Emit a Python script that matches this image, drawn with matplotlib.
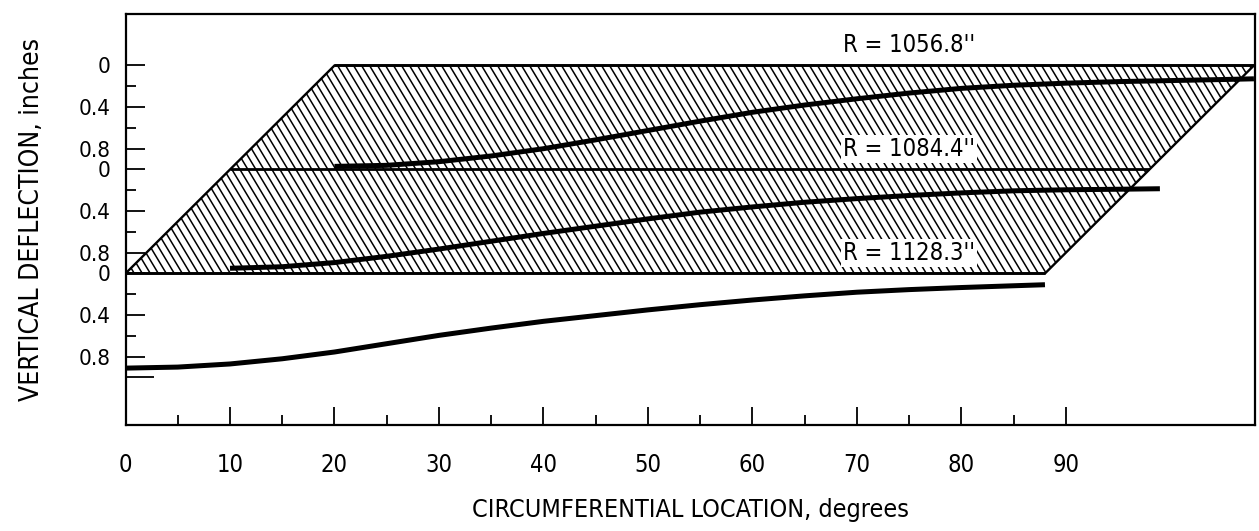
import numpy as np
import matplotlib
matplotlib.use("Agg")
import matplotlib.pyplot as plt
from matplotlib import font_manager
from matplotlib.patches import Polygon
from matplotlib.collections import LineCollection


# circumferential location (deg) along each ring, and vertical deflection (in.)
angle_top = [0, 5, 10, 15, 20, 25, 30, 35, 40, 45, 50, 55, 60, 65, 70, 75, 80, 85, 88]
defl_top = [0.97, 0.96, 0.925, 0.87, 0.80, 0.715, 0.625, 0.535, 0.45, 0.38, 0.32, 0.265,
            0.22, 0.19, 0.17, 0.155, 0.145, 0.135, 0.128]

angle_mid = [0, 5, 10, 15, 20, 25, 30, 35, 40, 45, 50, 55, 60, 65, 70, 75, 80, 85, 89]
defl_mid = [0.95, 0.935, 0.895, 0.835, 0.765, 0.69, 0.615, 0.545, 0.475, 0.41, 0.36, 0.315,
            0.28, 0.25, 0.225, 0.205, 0.195, 0.19, 0.185]

angle_bot = [0, 5, 10, 15, 20, 25, 30, 35, 40, 45, 50, 55, 60, 65, 70, 75, 80, 85, 88]
defl_bot = [0.91, 0.90, 0.87, 0.82, 0.755, 0.675, 0.595, 0.525, 0.46, 0.405, 0.35, 0.30,
            0.255, 0.215, 0.18, 0.155, 0.135, 0.118, 0.108]

ring_labels = ["R = 1056.8''", "R = 1084.4''", "R = 1128.3''"]

x_ticks = [0, 10, 20, 30, 40, 50, 60, 70, 80, 90]
x_minor = [5, 15, 25, 35, 45, 55, 65, 75, 85]
y_tick_labels = ["0", "0.4", "0.8"]

# each ring is drawn one inch lower and 10 deg further left than the one above
ring_span = 88.0
ring_shift = 10.0

# a narrow face suits the lettering best; fall back to DejaVu otherwise
fonts = font_manager.fontManager.ttflist
names = {f.name for f in fonts}
stretch = "normal"
if "Liberation Sans Narrow" in names:
    FONT = "Liberation Sans Narrow"
elif "DejaVu Sans Condensed" in names:
    FONT = "DejaVu Sans Condensed"
elif any(f.name == "DejaVu Sans" and f.stretch == "condensed" for f in fonts):
    FONT = "DejaVu Sans"
    stretch = "condensed"
else:
    FONT = "DejaVu Sans"
plt.rcParams["font.family"] = [FONT, "DejaVu Sans"]
plt.rcParams["font.stretch"] = stretch

fig = plt.figure(figsize=(12.59, 5.31), dpi=100)
ax = fig.add_axes([0.0997, 0.1996, 0.8971, 0.7740])
ax.set_xlim(0, 108.1)
ax.set_ylim(3.457, -0.495)

rings = [(angle_top, defl_top), (angle_mid, defl_mid), (angle_bot, defl_bot)]
n = len(rings)

# hatched band joining the three ring baselines
x_left_top = ring_shift * (n - 1)
band = Polygon([(x_left_top, 0), (x_left_top + ring_span, 0),
                (ring_span, n - 1), (0, n - 1)],
               closed=True, facecolor="white", edgecolor="black", lw=1.7, zorder=1)
ax.add_patch(band)

# hatch lines at roughly 60 deg, built in pixel space and mapped back to data
fig.canvas.draw()
to_px = ax.transData
to_data = ax.transData.inverted()
p0 = to_px.transform((0, 0))
p1 = to_px.transform((ring_span + ring_shift * (n - 1), n - 1))
spacing = 8.0
slope = 0.6
segs = []
height = abs(p1[1] - p0[1]) + 40
for xs in np.arange(p0[0] - height, p1[0] + 40, spacing):
    a = to_data.transform((xs, p0[1] + 20))
    b = to_data.transform((xs + slope * height, p0[1] + 20 - height))
    segs.append([a, b])
hatch = LineCollection(segs, colors="black", linewidths=1.1, zorder=1.5)
hatch.set_clip_path(band)
ax.add_collection(hatch)

for k, (ang, d) in enumerate(rings):
    shift = ring_shift * (n - 1 - k)
    ax.plot([shift, shift + ring_span], [k, k], color="black", lw=2.0,
            solid_capstyle="butt", zorder=2)
    ax.plot(np.asarray(ang) + shift, np.asarray(d) + k, color="black", lw=3.6,
            solid_capstyle="butt", solid_joinstyle="round", zorder=3)
    ax.text(68.7, k - 0.2, ring_labels[k], fontsize=17, ha="left", va="center",
            zorder=4, bbox=dict(facecolor="white", edgecolor="none", pad=1.5))

# x axis
ax.set_xticks(x_ticks)
ax.set_xticks(x_minor, minor=True)
ax.tick_params(axis="x", which="major", direction="in", length=13, width=1.3,
               pad=20, labelsize=17)
ax.tick_params(axis="x", which="minor", direction="in", length=7, width=1.3)

# y axis: the 0 / 0.4 / 0.8 scale is repeated for every ring
y_major, y_labels, y_minor = [], [], []
for k in range(n):
    y_major += [k, k + 0.4, k + 0.8]
    y_labels += y_tick_labels
    y_minor += [k + 0.2, k + 0.6]
y_major.append(n)
y_labels.append("")
ax.set_yticks(y_major, y_labels)
ax.set_yticks(y_minor, minor=True)
ax.tick_params(axis="y", which="major", direction="in", length=14, width=1.3,
               pad=11, labelsize=16)
ax.tick_params(axis="y", which="minor", direction="in", length=7, width=1.3)
ax.yaxis.get_major_ticks()[-1].tick1line.set_markersize(20)

for sp in ax.spines.values():
    sp.set_linewidth(1.6)

ax.set_xlabel("CIRCUMFERENTIAL LOCATION, degrees", fontsize=18, labelpad=15)
ax.set_ylabel("VERTICAL DEFLECTION, inches", fontsize=19, labelpad=24)

fig.savefig("out.png", dpi=100)
